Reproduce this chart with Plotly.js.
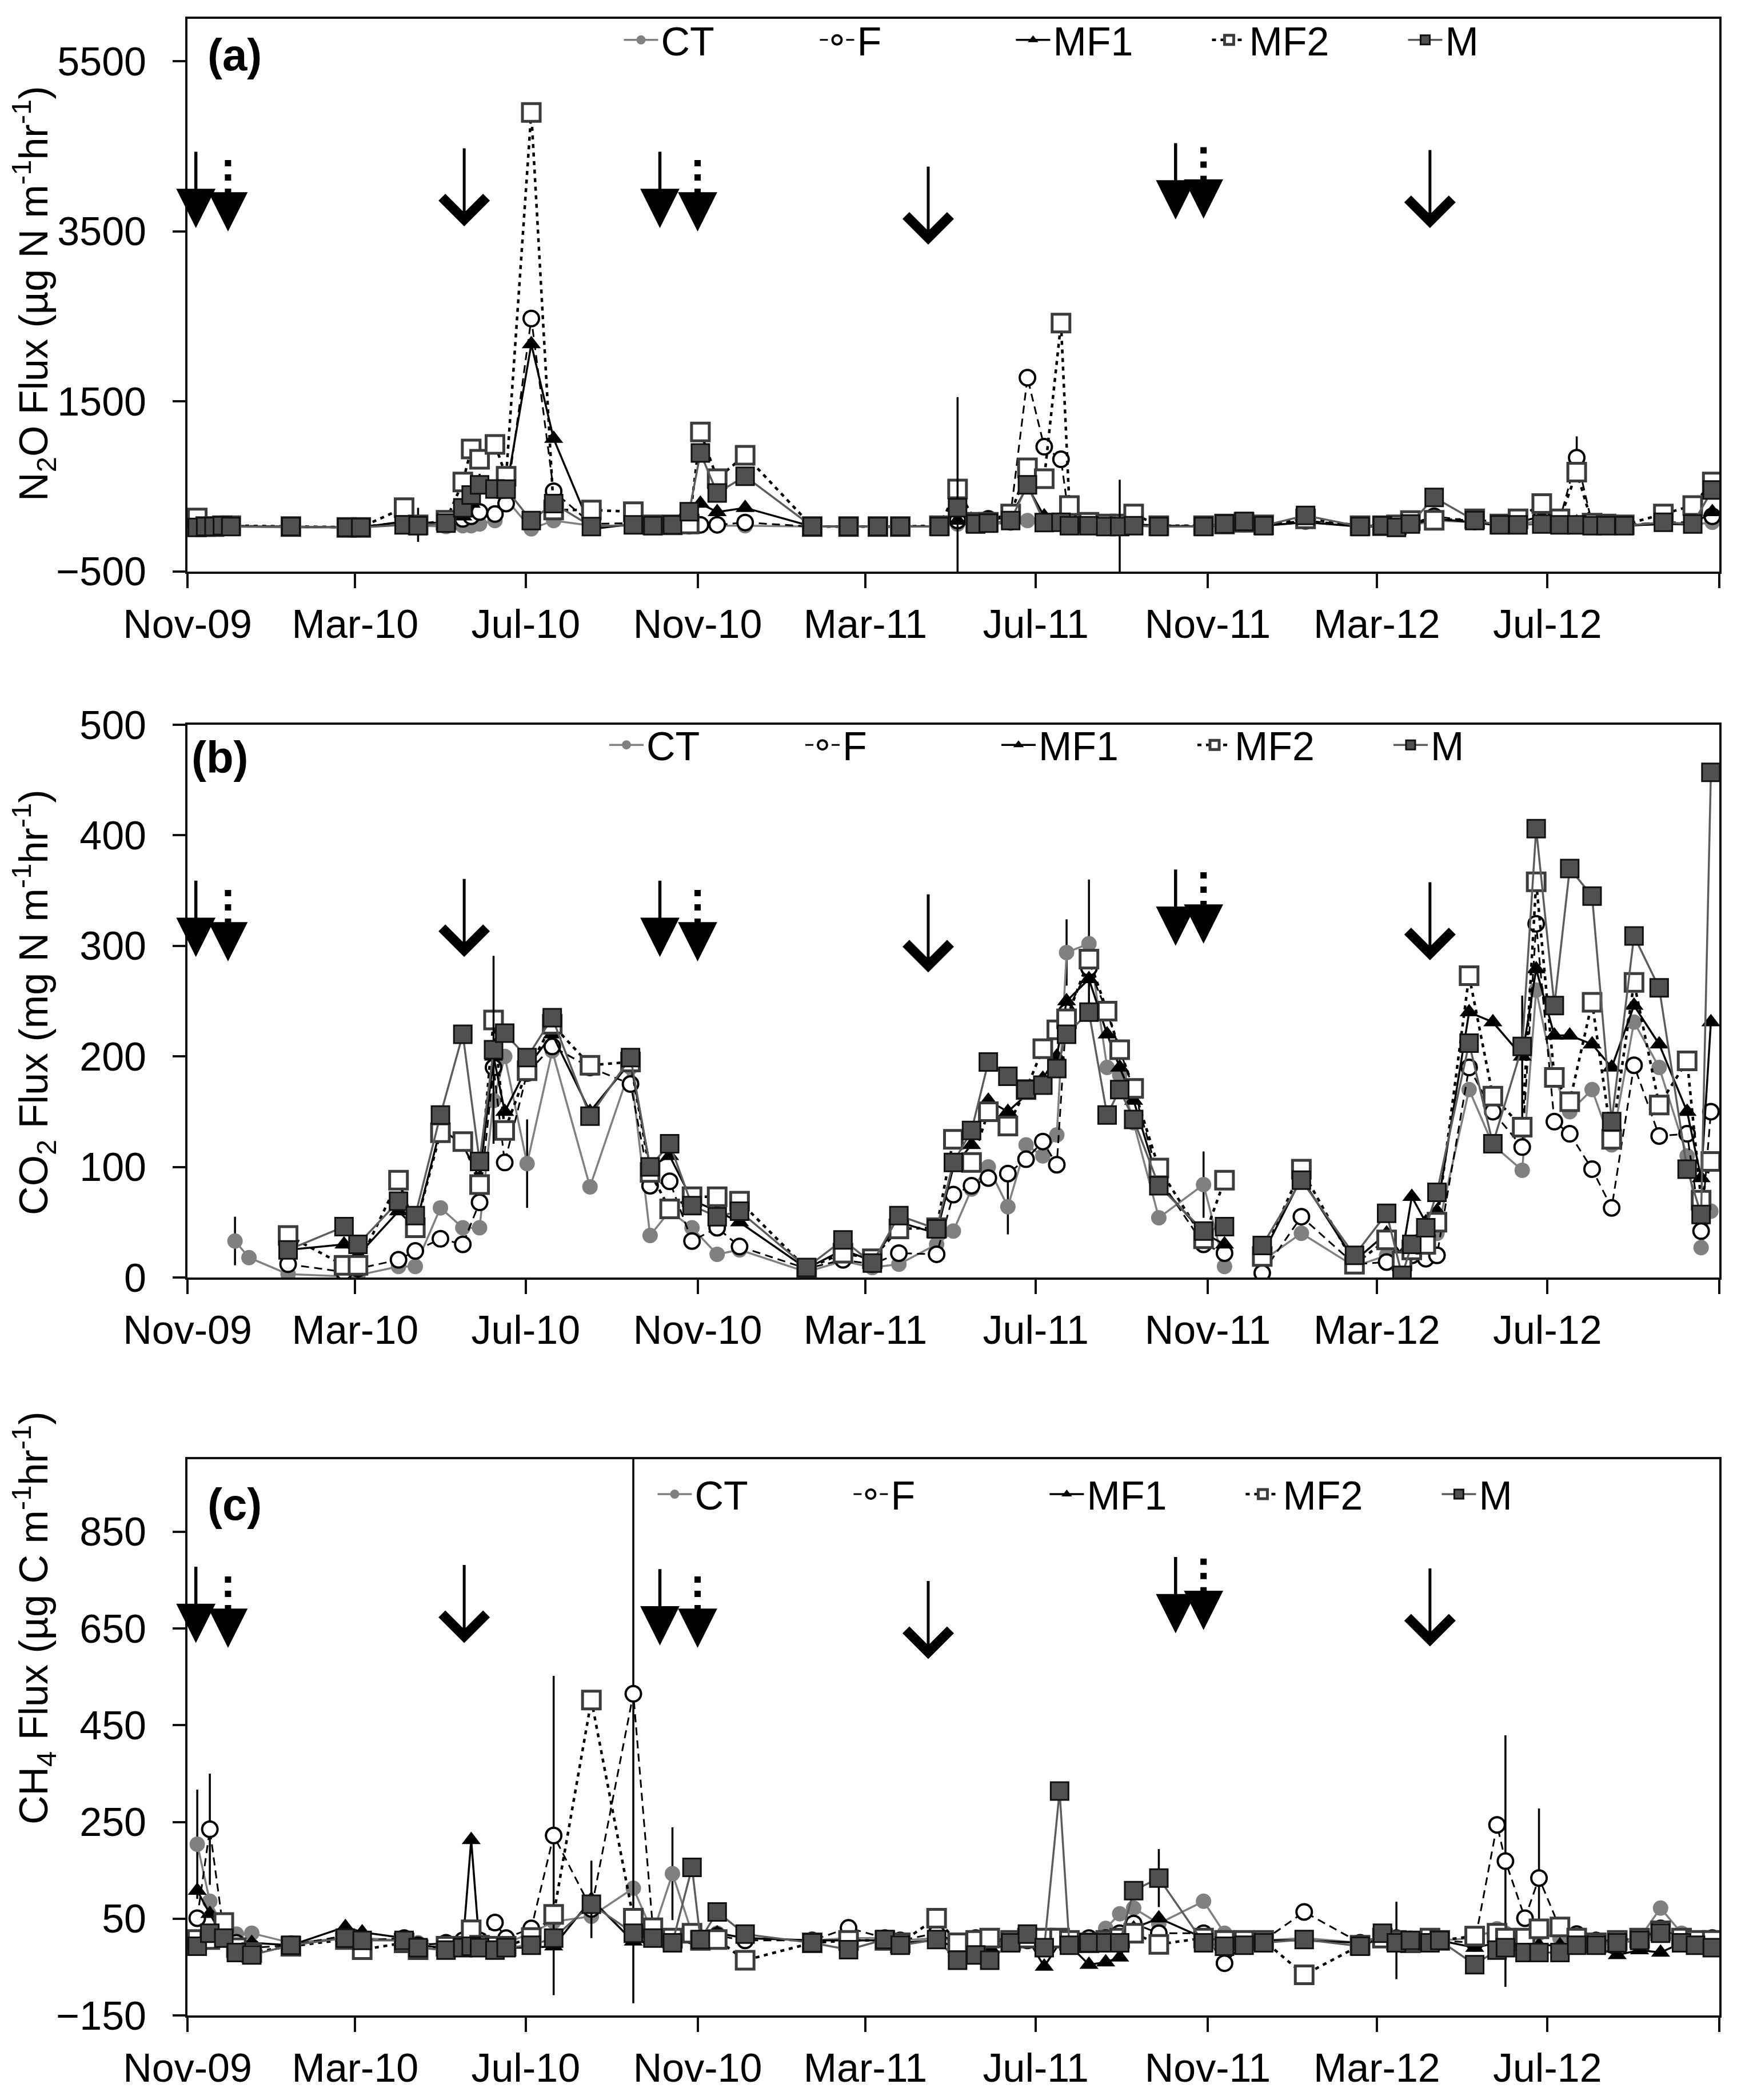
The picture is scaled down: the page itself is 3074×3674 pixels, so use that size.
<!DOCTYPE html>
<html>
<head>
<meta charset="utf-8">
<script src="https://cdn.plot.ly/plotly-3.0.1.min.js"></script>
<style>html,body{margin:0;padding:0;background:#fff;}#chart{width:3074px;height:3674px;}</style>
</head>
<body>
<div id="chart"></div>
<script>
// ---------- shared axis data ----------
const tickDates = ['2009-11-01','2010-03-01','2010-07-01','2010-11-01','2011-03-01','2011-07-01','2011-11-01','2012-03-01','2012-07-01','2012-11-01'];
const tickLabels = ['Nov-09','Mar-10','Jul-10','Nov-10','Mar-11','Jul-11','Nov-11','Mar-12','Jul-12',''];
const seriesNames = ['CT','F','MF1','MF2','M'];

// ---------- panel (a) N2O ----------
const datesA = ['2009-11-08','2009-11-14','2009-11-20','2009-11-26','2009-12-02',
'2010-01-14','2010-02-23','2010-03-05','2010-04-05','2010-04-15','2010-05-05','2010-05-17','2010-05-23','2010-05-29','2010-06-09','2010-06-17','2010-07-05','2010-07-21','2010-08-17','2010-09-16','2010-09-30','2010-10-14','2010-10-26','2010-11-03','2010-11-15','2010-12-05',
'2011-01-22','2011-02-17','2011-03-10','2011-03-26','2011-04-23','2011-05-06','2011-05-19','2011-05-28','2011-06-13','2011-06-25','2011-07-07','2011-07-19','2011-07-25','2011-08-08','2011-08-20','2011-08-30','2011-09-09','2011-09-27','2011-10-29','2011-11-13','2011-11-27','2011-12-11',
'2012-01-10','2012-02-18','2012-03-05','2012-03-15','2012-03-25','2012-04-11','2012-05-10','2012-05-28','2012-06-10','2012-06-27','2012-07-10','2012-07-22','2012-08-02','2012-08-12','2012-08-25','2012-09-22','2012-10-13','2012-10-27'];
const ctA  = [30,30,30,30,30, 20,20,20,60,40,30,40,40,60,100,351,3,100,40,40,30,30,30,40,40,40, 30,30,30,30,30,60,60,60,70,100,80,60,40,40,40,40,40,30,30,40,50,40, 80,30,30,30,40,100,80,40,60,100,60,50,40,40,40,60,50,80];
const fA   = [40,40,30,40,40, 30,20,30,80,60,80,120,150,200,177,300,2476,445,60,70,40,40,40,50,50,77, 30,30,30,30,40,100,80,120,177,1780,968,820,100,60,50,50,60,40,40,60,80,50, 100,40,40,30,60,150,90,60,100,200,120,840,60,50,50,80,80,150];
const mf1A = [20,30,30,30,30, 30,20,20,90,80,70,150,300,500,470,450,2175,1062,0,60,40,40,60,300,200,250, 30,30,30,30,30,100,90,100,150,500,150,100,60,40,40,40,40,40,30,50,60,40, 80,30,30,30,50,120,80,40,80,150,100,80,50,40,40,60,60,200];
const mf2A = [130,30,30,40,40, 30,20,20,251,50,103,553,942,820,995,620,4900,224,224,204,50,50,60,1142,593,868, 30,30,30,30,40,472,80,80,177,720,593,2423,277,80,60,60,177,40,40,60,80,50, 120,40,40,50,100,103,120,60,120,300,120,670,70,60,50,177,277,553];
const mA   = [20,30,30,40,30, 30,20,20,50,40,70,250,400,520,472,470,100,300,30,50,40,50,204,894,425,620, 30,30,30,30,30,251,60,70,100,520,77,80,40,40,30,30,40,30,30,60,90,40, 160,30,40,20,60,372,100,50,50,60,50,50,40,40,40,80,60,460];
const errDatesA  = ['2011-05-06','2011-08-30','2010-04-15','2012-07-22','2010-05-29'];
const errSeriesA = ['M','M','MF2','F','MF1'];
const errValsA   = [1300,550,200,250,150];

// ---------- panel (b) CO2 ----------
const datesB = ['2009-12-05','2009-12-15',
'2010-01-12','2010-02-21','2010-03-03','2010-04-01','2010-04-13','2010-05-01','2010-05-17','2010-05-29','2010-06-08','2010-06-16','2010-07-02','2010-07-20','2010-08-16','2010-09-14','2010-09-28','2010-10-12','2010-10-28','2010-11-15','2010-12-01',
'2011-01-18','2011-02-13','2011-03-06','2011-03-25','2011-04-21','2011-05-03','2011-05-16','2011-05-28','2011-06-11','2011-06-24','2011-07-06','2011-07-16','2011-07-23','2011-08-08','2011-08-21','2011-08-30','2011-09-09','2011-09-27','2011-10-29','2011-11-13','2011-11-27','2011-12-10',
'2012-01-07','2012-02-14','2012-03-08','2012-03-19','2012-03-26','2012-04-05','2012-04-13','2012-05-06','2012-05-23','2012-06-13','2012-06-23','2012-07-06','2012-07-17','2012-08-02','2012-08-16','2012-09-01','2012-09-19','2012-10-09','2012-10-19','2012-10-26'];
const ctB  = [33,18,3,1,2,10,10,63,45,45,160,200,103,205,82,190,38,60,45,21,25, 5,15,9,12,30,42,80,100,64,120,110,129,294,302,190,183,140,54,84,10,null,15, 40,10,20,10,20,30,40,170,120,97,260,180,150,170,120,231,190,110,27,60];
const fB   = [null,null,12,5,8,16,24,35,30,68,190,104,185,209,190,175,83,87,33,45,28, 8,16,12,22,21,75,83,90,94,107,123,102,240,280,240,206,170,90,30,22,null,4, 55,12,14,8,20,17,20,190,150,118,320,141,130,98,63,192,128,130,42,150];
const mf1B = [null,null,25,30,20,60,45,135,120,90,200,150,190,220,150,195,100,110,70,60,50, 8,25,15,50,40,100,120,160,150,165,180,200,250,270,220,190,160,85,40,30,null,20, 90,15,40,20,73,50,60,240,231,200,279,219,219,211,190,246,211,150,90,231];
const mf2B = [null,null,38,11,11,88,45,131,123,84,233,133,187,229,192,195,95,62,73,73,69, 8,22,17,44,45,125,104,150,137,170,207,224,234,288,241,206,171,99,35,88,null,19, 98,12,34,15,25,30,50,273,164,136,358,181,159,249,125,267,156,196,70,105];
const mB   = [null,null,25,46,30,69,56,147,220,105,206,221,199,235,146,199,100,121,65,55,60, 9,34,13,56,44,104,133,195,182,170,174,189,220,240,147,170,143,83,42,46,null,29, 88,20,58,2,30,45,77,212,121,209,406,246,370,345,141,309,262,98,57,457];
const errDatesB  = ['2009-12-05','2010-06-08','2010-07-02','2011-07-23','2011-08-08','2011-06-11','2011-10-29','2012-06-13'];
const errSeriesB = ['CT','M','CT','CT','CT','CT','CT','MF1'];
const errValsB   = [22,85,40,30,58,25,30,55];

// ---------- panel (c) CH4 ----------
const datesC = ['2009-11-08','2009-11-17','2009-11-27','2009-12-06','2009-12-17',
'2010-01-14','2010-02-22','2010-03-06','2010-04-05','2010-04-15','2010-05-05','2010-05-17','2010-05-23','2010-05-29','2010-06-09','2010-06-17','2010-07-05','2010-07-21','2010-08-17','2010-09-16','2010-09-30','2010-10-14','2010-10-28','2010-11-03','2010-11-15','2010-12-05',
'2011-01-22','2011-02-17','2011-03-15','2011-03-26','2011-04-21','2011-05-06','2011-05-19','2011-05-29','2011-06-13','2011-06-25','2011-07-07','2011-07-18','2011-07-25','2011-08-08','2011-08-20','2011-08-30','2011-09-09','2011-09-27','2011-10-29','2011-11-13','2011-11-27','2011-12-11',
'2012-01-09','2012-02-18','2012-03-05','2012-03-15','2012-03-25','2012-04-08','2012-04-15','2012-05-10','2012-05-26','2012-06-01','2012-06-15','2012-06-25','2012-07-10','2012-07-22','2012-08-05','2012-08-20','2012-09-05','2012-09-20','2012-10-05','2012-10-15','2012-10-27'];
const ctC  = [204,86,30,18,20, 0,10,10,5,0,-5,0,-5,0,-5,0,20,44,55,113,20,143,20,10,20,10, 5,10,10,5,10,5,0,-5,0,10,5,5,0,5,30,60,72,40,86,20,10,5, 10,0,10,0,10,10,5,10,29,20,10,20,10,5,0,5,10,72,20,10,5];
const fC   = [51,235,20,0,-10, -5,15,5,10,-5,0,5,10,5,42,10,30,222,70,515,30,10,15,10,15,5, 5,31,10,5,20,0,10,5,0,5,0,10,5,10,10,20,40,20,20,-42,0,5, 64,0,15,10,5,10,5,0,244,169,51,134,30,18,5,5,10,30,10,5,10];
const mf1C = [108,60,10,-10,0, -5,33,22,10,-5,-10,-5,213,-10,-15,-10,-10,-7,90,3,0,0,10,5,20,10, 5,5,5,0,5,-10,-20,-10,-5,10,-49,0,-5,-45,-40,-30,30,51,10,5,5,5, 5,0,10,5,0,5,5,-10,0,5,0,-5,-5,0,-10,-25,-15,-20,0,0,0];
const mf2C = [7,7,42,-10,-20, -7,7,-14,0,-14,-7,-7,27,-5,-7,-7,11,59,502,51,31,10,20,5,7,-36, 0,5,5,0,51,0,5,10,5,10,10,10,5,0,5,10,20,-3,10,5,5,5, -66,-5,10,5,0,10,5,14,20,10,10,29,33,10,0,5,10,25,10,5,5];
const mC   = [-7,20,10,-20,-25, -5,10,5,5,-10,-15,-10,-7,-10,-15,-10,-5,10,80,20,10,0,156,7,64,18, 0,-14,7,-5,7,-36,-25,-36,0,18,-10,314,-5,0,0,0,108,134,0,-7,-5,0, 7,-7,20,0,5,0,5,-45,-15,-10,-20,-20,-20,-5,-5,0,5,20,0,-5,-10];
const errDatesC  = ['2009-11-08','2009-11-17','2010-07-21','2010-09-16','2010-10-14','2010-08-17','2012-06-01','2012-06-25','2011-09-27','2012-03-15'];
const errSeriesC = ['CT','F','F','F','CT','MF1','F','F','M','MF1'];
const errValsC   = [113,115,330,640,96,80,260,144,60,80];

// ---------- field-operation arrows ----------
const arrowDates = ['2009-11-07','2009-11-30','2010-05-18','2010-10-05','2010-11-01','2011-04-15','2011-10-09','2011-10-29','2012-04-08'];
const arrowKinds = ['solid','dotted','open','solid','dotted','open','solid','dotted','open'];
const arrowTipA = [3540,3500,3560,3540,3500,3345,3640,3650,3540];
const arrowTipB = [290,286,290,290,286,276,300,302,287];
const arrowTipC = [620,610,620,615,610,587,640,647,613];

// ---------- build ----------
const FONT = 'Liberation Sans, Arial, sans-serif';
const styles = {
  CT:  {line:{color:'#808080', width:3.5}, marker:{symbol:'circle', size:27, color:'#808080', line:{width:0}}},
  F:   {line:{color:'#000', width:3, dash:'14px,9px'}, marker:{symbol:'circle', size:27, color:'#fff', line:{color:'#000', width:4}}},
  MF1: {line:{color:'#000', width:3.5}, marker:{symbol:'triangle-up', size:29, color:'#000', line:{width:0}}},
  MF2: {line:{color:'#000', width:4.5, dash:'7px,8px'}, marker:{symbol:'square', size:31, color:'#fff', line:{color:'#3c3c3c', width:5}}},
  M:   {line:{color:'#5c5c5c', width:3.5}, marker:{symbol:'square', size:31, color:'#505050', line:{color:'#111', width:3}}}
};

const panels = [
  {sfx:'',  dates:datesA, vals:[ctA,fA,mf1A,mf2A,mA], eD:errDatesA, eS:errSeriesA, eV:errValsA, tips:arrowTipA},
  {sfx:'2', dates:datesB, vals:[ctB,fB,mf1B,mf2B,mB], eD:errDatesB, eS:errSeriesB, eV:errValsB, tips:arrowTipB},
  {sfx:'3', dates:datesC, vals:[ctC,fC,mf1C,mf2C,mC], eD:errDatesC, eS:errSeriesC, eV:errValsC, tips:arrowTipC}
];

const traces = [];
const annotations = [];
const shapes = [];

panels.forEach(function(p){
  seriesNames.forEach(function(name, si){
    const err = p.dates.map(function(d){
      for (let k=0;k<p.eD.length;k++){ if (p.eD[k]===d && p.eS[k]===name) return p.eV[k]; }
      return null;
    });
    const st = styles[name];
    traces.push({
      type:'scatter', mode:'lines+markers', name:name,
      x:p.dates, y:p.vals[si],
      xaxis:'x'+p.sfx, yaxis:'y'+p.sfx,
      legend:'legend'+p.sfx,
      connectgaps:false,
      line:st.line, marker:st.marker,
      error_y:{type:'data', array:err, symmetric:true, visible:true, color:'#000', thickness:3.5, width:0},
      hoverinfo:'skip'
    });
  });
  arrowDates.forEach(function(d, k){
    const kind = arrowKinds[k];
    const base = {xref:'x'+p.sfx, yref:'y'+p.sfx, x:d, y:p.tips[k], text:'', showarrow:true,
      axref:'pixel', ayref:'pixel', ax:0, arrowcolor:'#000'};
    if (kind==='solid') {
      annotations.push(Object.assign({}, base, {ay:-135, arrowhead:2, arrowsize:2.5, arrowwidth:5.5}));
    } else if (kind==='open') {
      annotations.push(Object.assign({}, base, {ay:-138, arrowhead:4, arrowsize:3.0, arrowwidth:5}));
    } else {
      annotations.push(Object.assign({}, base, {ay:-62, arrowhead:2, arrowsize:2.5, arrowwidth:5.5}));
      shapes.push({type:'line', xref:'x'+p.sfx, yref:'y'+p.sfx, ysizemode:'pixel', yanchor:p.tips[k],
        x0:d, x1:d, y0:64, y1:138, line:{color:'#000', width:11, dash:'11px,14px'}});
    }
  });
});

function xAxis(anchor){
  return {domain:[0,1], anchor:anchor, type:'date', range:['2009-11-01','2012-11-01'],
    tickmode:'array', tickvals:tickDates, ticktext:tickLabels,
    ticks:'outside', ticklen:25, tickwidth:4, tickcolor:'#111',
    showline:true, linewidth:4, linecolor:'#111', mirror:true,
    showgrid:false, zeroline:false, ticklabelstandoff:3,
    tickfont:{family:FONT, size:70, color:'#000'}};
}
function yAxis(anchor, domain, range, vals){
  return {domain:domain, anchor:anchor, range:range, tickmode:'array', tickvals:vals,
    ticks:'outside', ticklen:22, tickwidth:4, tickcolor:'#111',
    showline:true, linewidth:4, linecolor:'#111', mirror:true,
    showgrid:false, zeroline:false, ticklabelstandoff:32,
    tickfont:{family:FONT, size:70, color:'#000'}};
}
function legendAt(x, y){
  return {orientation:'h', x:x, y:y, xanchor:'left', yanchor:'middle', bgcolor:'rgba(0,0,0,0)',
    font:{family:FONT, size:70, color:'#000'}, itemwidth:60, entrywidth:268, entrywidthmode:'pixels', tracegroupgap:0};
}

// panel labels and axis titles
const panelLabels = ['(a)','(b)','(c)'];
const panelLabelPos = [[0.0306,0.9739],[0.0213,0.6394],[0.0306,0.2836]];
panelLabels.forEach(function(t,i){
  annotations.push({xref:'paper', yref:'paper', x:panelLabelPos[i][0], y:panelLabelPos[i][1], text:'<b>'+t+'</b>',
    showarrow:false, xanchor:'center', yanchor:'middle', font:{family:FONT, size:78, color:'#000'}});
});
const yTitles = ['N<sub>2</sub>O Flux (µg N m<sup>-1</sup>hr<sup>-1</sup>)',
                 'CO<sub>2</sub> Flux (mg N m<sup>-1</sup>hr<sup>-1</sup>)',
                 'CH<sub>4</sub> Flux (µg C m<sup>-1</sup>hr<sup>-1</sup>)'];
const yTitleY = [0.8601, 0.5226, 0.2297];
yTitles.forEach(function(t,i){
  annotations.push({xref:'paper', yref:'paper', x:-0.1004, y:yTitleY[i], text:t, textangle:-90,
    showarrow:false, xanchor:'center', yanchor:'middle', font:{family:FONT, size:70, color:'#000'}});
});

const layout = {
  width:3074, height:3674, paper_bgcolor:'#fff', plot_bgcolor:'#fff',
  margin:{l:328, r:66, t:0, b:0}, showlegend:true,
  xaxis:xAxis('y'), xaxis2:xAxis('y2'), xaxis3:xAxis('y3'),
  yaxis:yAxis('x', [0.72782,0.99102], [-500,6000], [-500,1500,3500,5500]),
  yaxis2:yAxis('x2', [0.39167,0.65487], [0,500], [0,100,200,300,400,500]),
  yaxis3:yAxis('x3', [0.04028,0.30512], [-150,1000], [-150,50,250,450,650,850]),
  legend:legendAt(0.283, 0.981), legend2:legendAt(0.2735, 0.6453), legend3:legendAt(0.305, 0.2885),
  annotations:annotations, shapes:shapes
};

Plotly.newPlot('chart', traces, layout, {staticPlot:true, displayModeBar:false});
</script>
</body>
</html>
